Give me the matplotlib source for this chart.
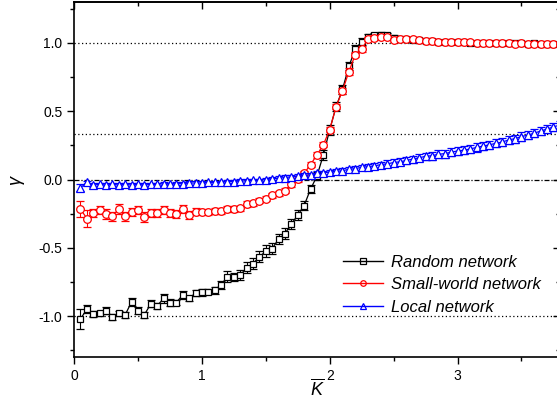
import matplotlib
matplotlib.use("Agg")
import matplotlib.pyplot as plt
from matplotlib.lines import Line2D
from matplotlib.ticker import MultipleLocator, FormatStrFormatter
import numpy as np

plt.rcParams['font.family'] = ['Liberation Sans', 'DejaVu Sans']
plt.rcParams['mathtext.fontset'] = 'custom'
plt.rcParams['mathtext.it'] = 'Liberation Sans:italic'
plt.rcParams['mathtext.rm'] = 'Liberation Sans'

# mean degree grid (0.05 ... 3.80)
k_mean = np.round(np.arange(1, 77) * 0.05, 2)

random_net = [
    -1.02, -0.95, -0.985, -0.98, -0.96, -1.005, -0.98, -0.99, -0.895, -0.96,
    -0.99, -0.91, -0.925, -0.87, -0.90, -0.90, -0.845, -0.87, -0.83, -0.825,
    -0.82, -0.81, -0.77, -0.71, -0.715, -0.70, -0.645, -0.615, -0.565, -0.525,
    -0.505, -0.435, -0.395, -0.325, -0.26, -0.19, -0.07, 0.025, 0.18, 0.365,
    0.535, 0.66, 0.83, 0.955, 1.01, 1.045, 1.055, 1.06, 1.055, 1.04,
    1.03, 1.03, 1.025, 1.02, 1.015, 1.015, 1.01, 1.01, 1.005, 1.005,
    1.005, 1.0, 1.0, 1.0, 1.0, 1.0, 1.0, 1.0, 1.0, 1.0,
    0.995, 1.0, 0.995, 0.995, 0.995, 0.995,
]
random_err = [
    0.075, 0.03, 0.02, 0.02, 0.025, 0.02, 0.02, 0.02, 0.03, 0.025,
    0.02, 0.025, 0.02, 0.03, 0.025, 0.02, 0.03, 0.02, 0.025, 0.025,
    0.02, 0.025, 0.03, 0.04, 0.03, 0.035, 0.04, 0.04, 0.04, 0.045,
    0.04, 0.04, 0.04, 0.04, 0.035, 0.03, 0.03, 0.03, 0.035, 0.035,
    0.03, 0.03, 0.03, 0.03, 0.025, 0.02, 0.02, 0.02, 0.02, 0.02,
    0.015, 0.015, 0.015, 0.015, 0.015, 0.015, 0.012, 0.012, 0.012, 0.012,
    0.012, 0.01, 0.01, 0.01, 0.01, 0.01, 0.01, 0.01, 0.01, 0.01,
    0.01, 0.01, 0.01, 0.01, 0.01, 0.01,
]

small_world = [
    -0.215, -0.285, -0.245, -0.22, -0.25, -0.27, -0.215, -0.27, -0.235, -0.225,
    -0.275, -0.245, -0.245, -0.225, -0.245, -0.25, -0.215, -0.26, -0.235, -0.235,
    -0.24, -0.23, -0.23, -0.215, -0.215, -0.21, -0.18, -0.175, -0.155, -0.14,
    -0.115, -0.10, -0.08, -0.035, 0.005, 0.045, 0.11, 0.18, 0.255, 0.365,
    0.535, 0.65, 0.79, 0.915, 0.955, 1.03, 1.04, 1.045, 1.045, 1.02,
    1.03, 1.03, 1.03, 1.02, 1.015, 1.015, 1.01, 1.01, 1.01, 1.005,
    1.005, 1.005, 1.0, 1.0, 1.0, 1.0, 1.0, 1.0, 0.995, 1.0,
    0.995, 0.995, 0.995, 0.995, 0.995, 0.99,
]
small_err = [
    0.06, 0.06, 0.03, 0.03, 0.035, 0.03, 0.035, 0.03, 0.03, 0.03,
    0.035, 0.03, 0.03, 0.03, 0.03, 0.03, 0.03, 0.03, 0.025, 0.02,
    0.02, 0.02, 0.02, 0.02, 0.02, 0.02, 0.02, 0.02, 0.02, 0.02,
    0.02, 0.02, 0.02, 0.02, 0.02, 0.02, 0.02, 0.02, 0.02, 0.02,
    0.02, 0.02, 0.025, 0.02, 0.02, 0.015, 0.015, 0.015, 0.015, 0.015,
    0.015, 0.015, 0.012, 0.012, 0.012, 0.012, 0.012, 0.012, 0.01, 0.01,
    0.01, 0.01, 0.01, 0.01, 0.01, 0.01, 0.01, 0.01, 0.01, 0.01,
    0.01, 0.01, 0.01, 0.01, 0.01, 0.01,
]

local_net = [
    -0.06, -0.02, -0.04, -0.035, -0.04, -0.035, -0.04, -0.035, -0.04, -0.035,
    -0.04, -0.035, -0.035, -0.03, -0.035, -0.03, -0.03, -0.025, -0.025, -0.025,
    -0.02, -0.02, -0.02, -0.015, -0.015, -0.01, -0.01, -0.005, -0.005, 0.0,
    0.005, 0.01, 0.015, 0.02, 0.025, 0.03, 0.035, 0.045, 0.05, 0.055,
    0.06, 0.065, 0.075, 0.08, 0.09, 0.095, 0.10, 0.11, 0.115, 0.125,
    0.13, 0.14, 0.15, 0.16, 0.17, 0.175, 0.185, 0.19, 0.20, 0.21,
    0.215, 0.225, 0.235, 0.245, 0.255, 0.265, 0.275, 0.29, 0.30, 0.315,
    0.325, 0.34, 0.355, 0.37, 0.385, 0.40,
]
local_err = [
    0.025, 0.012, 0.012, 0.012, 0.012, 0.012, 0.012, 0.012, 0.012, 0.012,
    0.012, 0.012, 0.012, 0.012, 0.012, 0.012, 0.012, 0.012, 0.012, 0.012,
    0.012, 0.012, 0.012, 0.012, 0.012, 0.012, 0.012, 0.012, 0.012, 0.012,
    0.015, 0.015, 0.015, 0.015, 0.015, 0.015, 0.015, 0.015, 0.015, 0.015,
    0.02, 0.02, 0.02, 0.02, 0.02, 0.02, 0.02, 0.02, 0.025, 0.025,
    0.025, 0.025, 0.025, 0.025, 0.025, 0.03, 0.03, 0.03, 0.03, 0.03,
    0.03, 0.03, 0.03, 0.03, 0.03, 0.03, 0.03, 0.03, 0.03, 0.03,
    0.03, 0.03, 0.03, 0.03, 0.03, 0.03,
]

ref_levels = [1.0, 1 / 3, -1.0]

fig = plt.figure(figsize=(5.57, 4.04), dpi=100)
ax = fig.add_axes([0.133, 0.116, 0.872, 0.879])

for lv in ref_levels:
    ax.axhline(lv, color='black', lw=0.9, ls=(0, (1, 2)), zorder=1)
ax.axhline(0.0, color='black', lw=0.9, ls=(0, (4, 1.5, 1, 1.5)), zorder=1)

series = [
    (random_net, random_err, 'black', 's', 5.0, 'Random network'),
    (small_world, small_err, 'red', 'o', 5.5, 'Small-world network'),
    (local_net, local_err, 'blue', '^', 5.5, 'Local network'),
]
handles = []
for i, (y, e, c, m, ms, name) in enumerate(series):
    ax.errorbar(k_mean, y, yerr=e, color=c, lw=0.9, marker=m, ms=ms,
                mfc='white', mec=c, mew=0.9, capsize=3, elinewidth=0.8,
                capthick=0.8, zorder=2 + i)
    ax.plot(k_mean, y, ls='none', marker='.', ms=1.5, color=c, zorder=2 + i)
    handles.append(Line2D([], [], color=c, lw=1, marker=m, ms=4,
                          mfc='none', mec=c, mew=0.9, label=name))

ax.set_xlim(0, 3.8)
ax.set_ylim(-1.3, 1.3)
ax.xaxis.set_major_locator(MultipleLocator(1))
ax.xaxis.set_minor_locator(MultipleLocator(0.5))
ax.yaxis.set_major_locator(MultipleLocator(0.5))
ax.yaxis.set_minor_locator(MultipleLocator(0.25))
ax.yaxis.set_major_formatter(FormatStrFormatter('%.1f'))
ax.tick_params(which='both', direction='out', width=1, labelsize=10)
ax.tick_params(which='major', length=5)
ax.tick_params(which='minor', length=3)

# top/right ticks point inward, no labels
top = ax.secondary_xaxis('top')
top.xaxis.set_major_locator(MultipleLocator(1))
top.xaxis.set_minor_locator(MultipleLocator(0.5))
top.tick_params(which='both', direction='in', width=1, labeltop=False)
top.tick_params(which='major', length=5)
top.tick_params(which='minor', length=3)
right = ax.secondary_yaxis('right')
right.yaxis.set_major_locator(MultipleLocator(0.5))
right.yaxis.set_minor_locator(MultipleLocator(0.25))
right.tick_params(which='both', direction='in', width=1, labelright=False)
right.tick_params(which='major', length=5)
right.tick_params(which='minor', length=3)
for s in ax.spines.values():
    s.set_linewidth(1.2)
top.spines['top'].set_linewidth(1.2)
right.spines['right'].set_linewidth(1.2)

ax.set_xlabel(r'$\overline{K}$', fontsize=13, labelpad=-3)
ax.set_ylabel(r'$\gamma$', fontsize=13, labelpad=8)

ax.legend(handles=handles, loc='upper left', bbox_to_anchor=(0.6, 0.39),
          bbox_transform=fig.transFigure, frameon=False, handlelength=2.4,
          handletextpad=0.5, labelspacing=0.45, borderpad=0,
          prop={'style': 'italic', 'size': 12})

fig.savefig('out.png', dpi=100)
